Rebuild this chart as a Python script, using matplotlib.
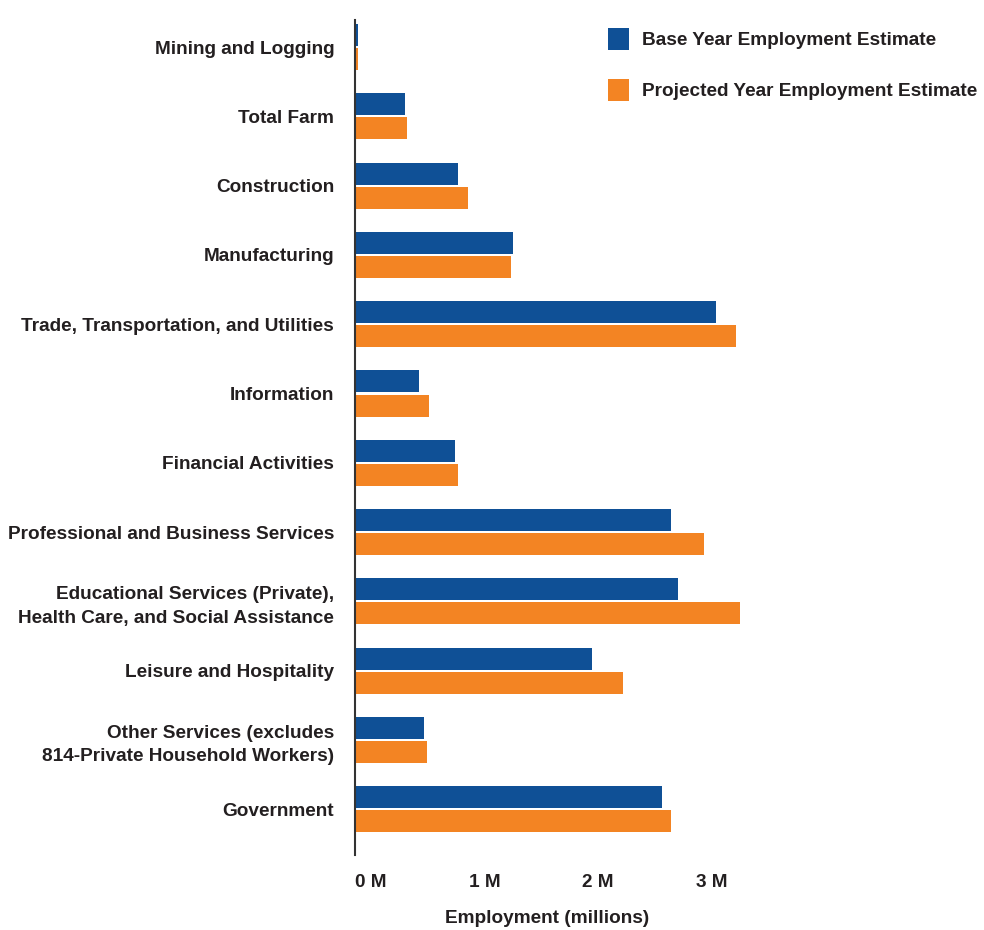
import matplotlib.pyplot as plt
import numpy as np
from matplotlib.patches import Patch

categories = [
    'Mining and Logging',
    'Total Farm',
    'Construction',
    'Manufacturing',
    'Trade, Transportation, and Utilities',
    'Information',
    'Financial Activities',
    'Professional and Business Services',
    'Educational Services (Private),\nHealth Care, and Social Assistance',
    'Leisure and Hospitality',
    'Other Services (excludes\n814-Private Household Workers)',
    'Government',
]
# employment in millions
base_year = [0.026, 0.44, 0.91, 1.39, 3.18, 0.56, 0.88, 2.78, 2.84, 2.09, 0.61, 2.70]
projected_year = [0.026, 0.46, 0.995, 1.37, 3.35, 0.65, 0.91, 3.07, 3.39, 2.36, 0.63, 2.78]
x_ticks = [0, 1, 2, 3]
x_tick_labels = ['0 M', '1 M', '2 M', '3 M']

blue = '#0f5096'
orange = '#f38423'
text_color = '#231f20'
fs = 13.7

plt.rcParams['font.family'] = ['Liberation Sans', 'DejaVu Sans']

fig = plt.figure(figsize=(9.84, 9.3), dpi=100)
ax = fig.add_axes([355 / 984, 1 - 855 / 930, 409 / 984, 835 / 930])

y = np.arange(len(categories))
h = 0.318
ax.barh(y - h / 2 - 0.015, base_year, height=h, color=blue)
ax.barh(y + h / 2 + 0.015, projected_year, height=h, color=orange)

ax.set_ylim(11.66, -0.39)
ax.set_xlim(0, 3.6)

ax.set_yticks(y)
ax.set_yticklabels(categories, fontsize=fs, fontweight='bold', color=text_color,
                   linespacing=1.5)
ax.tick_params(axis='y', length=0, pad=15)

ax.set_xticks(x_ticks)
ax.set_xticklabels(x_tick_labels, fontsize=fs, fontweight='bold', color=text_color,
                   ha='left')
ax.tick_params(axis='x', length=0, pad=13.5)
fig.text(547 / 984, 1 - 918 / 930, 'Employment (millions)', fontsize=fs,
         fontweight='bold', color=text_color, ha='center', va='center')

for side in ['top', 'right', 'bottom']:
    ax.spines[side].set_visible(False)
ax.spines['left'].set_color('#333333')
ax.spines['left'].set_linewidth(1.5)

handles = [Patch(facecolor=blue, label='Base Year Employment Estimate'),
           Patch(facecolor=orange, label='Projected Year Employment Estimate')]
leg = fig.legend(handles=handles, loc='upper left', bbox_to_anchor=(600 / 984, 1 - 20 / 930),
                 frameon=False, fontsize=fs, handlelength=1.15, handleheight=1.4,
                 handletextpad=0.65, labelspacing=1.55, borderaxespad=0)
for t in leg.get_texts():
    t.set_fontweight('bold')
    t.set_color(text_color)

fig.savefig('out.png', dpi=100)
